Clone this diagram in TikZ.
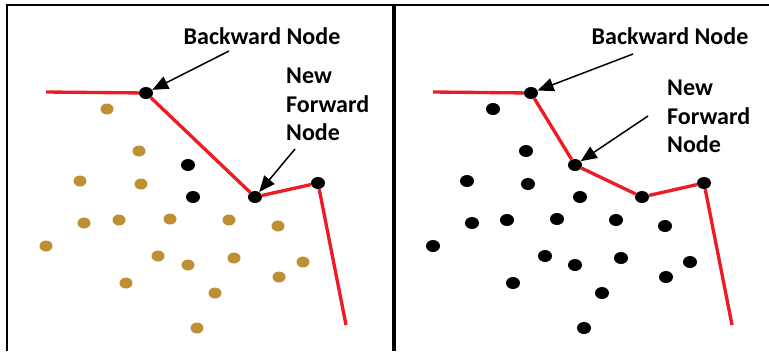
\documentclass[tikz,border=0pt]{standalone}
\usepackage{fontspec}
\setmainfont{Carlito}
\usetikzlibrary{shapes.geometric,arrows.meta}

\begin{document}
\begin{tikzpicture}[x=0.03cm,y=-0.03cm,
  seed/.style={ellipse,fill=seedcol,inner sep=0pt,minimum width=3.9mm,minimum height=3.3mm},
  pt/.style={ellipse,fill=black,inner sep=0pt,minimum width=4.2mm,minimum height=3.6mm},
  front/.style={frontcol,line width=1mm},
  pointer/.style={-{Triangle[length=4.8mm,width=4mm]},line width=0.45mm},
  lbl/.style={font=\fontsize{20.5}{24.3}\selectfont\bfseries,inner sep=0pt}]

  \definecolor{seedcol}{rgb}{0.75,0.56,0.2}
  \definecolor{frontcol}{rgb}{0.93,0.11,0.14}

  \useasboundingbox (0,0) rectangle (769,351);

  % frame
  \draw[line width=0.6mm] (7,351) -- (7,5) -- (769,5);
  \draw[line width=1.2mm] (394,5) -- (394,351);

  % left panel
  \foreach \x/\y [count=\i] in {107/109,139/151,80/181,141/184,84/223,119/220,
    170/219,229/220,278/226,46/246,158/256,188/265,234/258,303/262,279/277,
    126/283,215/293,197/328}
    \node[seed] (g\i) at (\x,\y) {};

  \node[pt] (b1) at (188,165) {};
  \node[pt] (b2) at (193,197) {};
  \node[pt] (bk1) at (146,93) {};
  \node[pt] (nf1) at (255,197) {};
  \node[pt] (p1) at (318,183) {};
  \coordinate (s1) at (46,92);
  \coordinate (e1) at (346,325);

  \draw[front] (s1) -- (bk1) -- (nf1) -- (p1) -- (e1);

  \node[lbl] (bt1) at (262,36) {Backward Node};
  \node[lbl,align=left,anchor=west] (ft1) at (286,104.5) {New\\Forward\\Node};
  \coordinate (ba1) at (229,51);
  \coordinate (fa1) at (295,149);
  \draw[pointer] (ba1) -- (bk1);
  \draw[pointer] (fa1) -- (nf1);

  % right panel
  \foreach \x/\y [count=\i] in {493/109,526/151,467/181,528/184,580/197,472/223,
    507/220,557/219,616/220,665/226,433/246,545/256,575/265,621/258,690/262,
    666/277,513/283,602/293,584/328}
    \node[pt] (d\i) at (\x,\y) {};

  \node[pt] (bk2) at (531,93) {};
  \node[pt] (nf2) at (575,165) {};
  \node[pt] (p2) at (642,197) {};
  \node[pt] (p3) at (704,183) {};
  \coordinate (s2) at (433,92);
  \coordinate (e2) at (732,325);

  \draw[front] (s2) -- (bk2) -- (nf2) -- (p2) -- (p3) -- (e2);

  \node[lbl] (bt2) at (670,36) {Backward Node};
  \node[lbl,align=left,anchor=west] (ft2) at (667,116.5) {New\\Forward\\Node};
  \coordinate (ba2) at (633,54);
  \coordinate (fa2) at (648,116);
  \draw[pointer] (ba2) -- (bk2);
  \draw[pointer] (fa2) -- (nf2);

\end{tikzpicture}
\end{document}
